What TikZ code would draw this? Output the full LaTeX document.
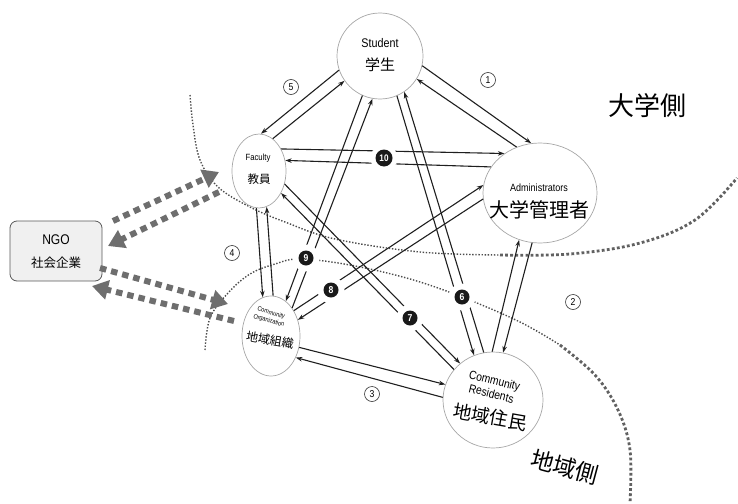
\documentclass[tikz,border=0pt]{standalone}
\usepackage{fontspec}
\setmainfont{Liberation Sans}
\newfontfamily\lat[FakeStretch=0.86]{Liberation Sans}
\newfontfamily\jp{Noto Sans CJK JP}
\usetikzlibrary{arrows.meta,shapes.geometric}
\tikzset{
 bub/.style={ellipse, draw=black!35, line width=0.7pt, inner sep=0pt},
 arr/.style={-{Stealth[length=6.5pt,width=4.5pt]}, line width=1.1pt, draw=black!88},
 garr/.style={draw=black!57, line width=6pt, dash pattern=on 6.5pt off 5pt, -{Triangle[length=16pt,width=19pt]}},
 dotl/.style={draw=black!70, line width=1.4pt, dash pattern=on 1.4pt off 1.7pt},
 dotb/.style={draw=black!62, line width=2.8pt, dash pattern=on 2.8pt off 2.3pt},
 onum/.style={circle, draw=black!80, line width=0.6pt, minimum size=15pt, inner sep=0pt, font=\lat\fontsize{10}{10}\selectfont},
 bnum/.style={circle, fill=black!90, text=white, minimum size=15pt, inner sep=0pt, font=\lat\bfseries\fontsize{10}{10}\selectfont},
 gapmask/.style={circle, fill=white, minimum size=27pt, inner sep=0pt},
 ngobox/.style={rectangle, rounded corners=7pt, draw=black!65, line width=0.8pt, fill=black!6, minimum width=92pt, minimum height=60pt},
}
\begin{document}
\begin{tikzpicture}[x=1pt,y=-1pt]
\useasboundingbox (0,0) rectangle (738,503);

% dotted boundaries
\draw[dotl] plot[smooth, tension=0.6] coordinates {(190,95) (193,125) (200,160) (218,187) (250,207) (285,222) (335,239) (420,252) (500,255)};
\draw[dotb] plot[smooth, tension=0.6] coordinates {(500,255) (570,254) (640,243) (695,220) (737,178)};
\draw[dotl] plot[smooth, tension=0.6] coordinates {(205,350) (210,318) (228,293) (250,274) (275,264) (300,259) (350,265) (410,279) (462,297) (520,322) (560,345)};
\draw[dotb] plot[smooth, tension=0.6] coordinates {(560,345) (595,375) (618,410) (630,450) (630,503)};

% bubbles
\node[bub, minimum width=86pt, minimum height=86pt] (st) at (380,56) {};
\node[bub, minimum width=54pt, minimum height=74pt] (fa) at (259,171) {};
\node[bub, minimum width=114pt, minimum height=100pt] (ad) at (540,193) {};
\node[bub, minimum width=58pt, minimum height=80pt] (co) at (271,336) {};
\node[bub, minimum width=100pt, minimum height=96pt] (re) at (493,400) {};
\node[ngobox] (ngo) at (56,251) {};

% texts
\node[font=\lat\fontsize{12.5}{12.5}\selectfont] (stEn) at (380,43) {Student};
\node[font=\jp\fontsize{15}{15}\selectfont] (stJp) at (380,65) {学生};
\node[font=\lat\fontsize{9}{9}\selectfont] (faEn) at (258,158) {Faculty};
\node[font=\jp\fontsize{11.5}{11.5}\selectfont] (faJp) at (259,179) {教員};
\node[font=\lat\fontsize{10.5}{10.5}\selectfont] (adEn) at (539,188) {Administrators};
\node[font=\jp\fontsize{20}{20}\selectfont] (adJp) at (539,210) {大学管理者};
\node[font=\lat\fontsize{6.5}{8}\selectfont, rotate=-16, align=center, inner sep=1pt] (coEn) at (270,317) {Community\\Organization};
\node[font=\jp\fontsize{12}{12}\selectfont, rotate=-10, inner sep=1pt] (coJp) at (270,340) {地域組織};
\node[font=\lat\fontsize{12}{13.5}\selectfont, rotate=-14, align=center, inner sep=1pt] (reEn) at (493,387) {Community\\Residents};
\node[font=\jp\fontsize{18.5}{18.5}\selectfont, rotate=-10, inner sep=1pt] (reJp) at (490,417) {地域住民};
\node[font=\lat\fontsize{14}{14}\selectfont] (ngoEn) at (56,240) {NGO};
\node[font=\jp\fontsize{12.5}{12.5}\selectfont] (ngoJp) at (56,263) {社会企業};
\node[font=\jp\fontsize{26}{26}\selectfont] (uni) at (647,106) {大学側};
\node[font=\jp\fontsize{23}{23}\selectfont, rotate=-15] (com) at (565,467) {地域側};

% gray dotted arrows
\coordinate (g1s) at (113,221); \coordinate (g1e) at (219,172);
\coordinate (g2s) at (219,192); \coordinate (g2e) at (108,246);
\coordinate (g3s) at (100,268); \coordinate (g3e) at (228,304);
\coordinate (g4s) at (234,321); \coordinate (g4e) at (92,286);
\draw[garr] (g1s) -- (g1e);
\draw[garr] (g2s) -- (g2e);
\draw[garr] (g3s) -- (g3e);
\draw[garr] (g4s) -- (g4e);

% arrows (pairs)
\draw[arr] (st.347) -- (ad.100);
\draw[arr] (ad.117) -- (st.328);
\draw[arr] (st.199) -- (fa.87);
\draw[arr] (fa.67) -- (st.215);
\draw[arr] (fa.45) -- (ad.132);
\draw[arr] (ad.152) -- (fa.22);
\draw[arr] (fa.266) -- (co.102);
\draw[arr] (co.87) -- (fa.282);
\draw[arr] (st.246) -- (co.67);
\draw[arr] (co.53) -- (st.260);
\draw[arr] (st.293) -- (re.113);
\draw[arr] (re.101) -- (st.304);
\draw[arr] (fa.333) -- (re.132);
\draw[arr] (re.142) -- (fa.315);
\draw[arr] (co.48) -- (ad.172);
\draw[arr] (ad.186) -- (co.31);
\draw[arr] (re.91) -- (ad.246);
\draw[arr] (ad.261) -- (re.78);
\draw[arr] (co.338) -- (re.162);
\draw[arr] (re.177) -- (co.319);

% labels
\node[onum] (n1) at (488,80) {1};
\node[onum] (n2) at (573,302) {2};
\node[onum] (n3) at (372,394) {3};
\node[onum] (n4) at (232,253) {4};
\node[onum] (n5) at (291,87) {5};
\node[gapmask] (m6) at (462,297) {};
\node[gapmask] (m7) at (410,318) {};
\node[gapmask] (m8) at (331,290) {};
\node[gapmask] (m9) at (306,258) {};
\node[gapmask] (m10) at (384,158) {};
\node[bnum] (b6) at (462,297) {6};
\node[bnum] (b7) at (410,318) {7};
\node[bnum] (b8) at (331,290) {8};
\node[bnum] (b9) at (306,258) {9};
\node[bnum, minimum size=17pt, font=\lat\bfseries\fontsize{9.5}{9.5}\selectfont] (b10) at (384,158) {10};
\end{tikzpicture}
\end{document}
